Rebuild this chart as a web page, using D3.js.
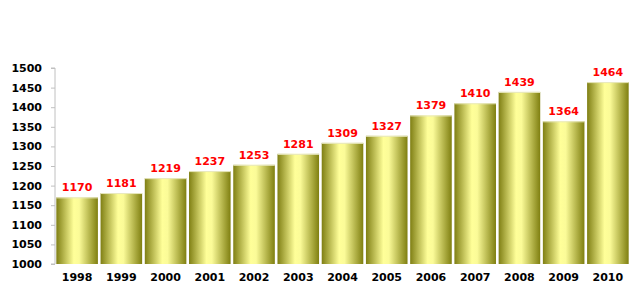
<!DOCTYPE html>
<html>
<head>
<meta charset="utf-8">
<script src="https://cdn.jsdelivr.net/npm/d3@7"></script>
<style>
  body { margin: 0; background: #fff; }
  text { font-family: Verdana, "DejaVu Sans", sans-serif; font-weight: bold; font-size: 11px; }
</style>
</head>
<body>
<script>
// chart data
var years = ['1998','1999','2000','2001','2002','2003','2004','2005','2006','2007','2008','2009','2010'];
var values = [1170, 1181, 1219, 1237, 1253, 1281, 1309, 1327, 1379, 1410, 1439, 1364, 1464];
var yTicks = [1000, 1050, 1100, 1150, 1200, 1250, 1300, 1350, 1400, 1450, 1500];

var width = 639, height = 299;
var plotLeft = 55, plotRight = 630, plotTop = 68, plotBottom = 264;

var data = years.map((y, i) => ({year: y, value: values[i]}));

var svg = d3.select('body').append('svg')
  .attr('width', width)
  .attr('height', height);

var grad = svg.append('defs').append('linearGradient')
  .attr('id', 'barGrad')
  .attr('x1', '0%').attr('x2', '100%').attr('y1', '0%').attr('y2', '0%');
grad.append('stop').attr('offset', '0%').attr('stop-color', '#7f7f14');
grad.append('stop').attr('offset', '42%').attr('stop-color', '#ffff99');
grad.append('stop').attr('offset', '55%').attr('stop-color', '#fbfb98');
grad.append('stop').attr('offset', '100%').attr('stop-color', '#7f7f10');

var x = d3.scaleBand()
  .domain(years)
  .range([plotLeft, plotRight])
  .paddingInner(0.06)
  .paddingOuter(0.03);

var y = d3.scaleLinear()
  .domain([1000, 1500])
  .range([plotBottom, plotTop]);

// y axis
var yAxis = svg.append('g')
  .attr('transform', `translate(${plotLeft},0)`)
  .call(d3.axisLeft(y).tickValues(yTicks).tickSize(4).tickPadding(9).tickFormat(d3.format('d')));
yAxis.selectAll('path, line').attr('stroke', '#c0c0c0');
yAxis.selectAll('text').attr('fill', '#000').style('font-size', '11px');
yAxis.select('.domain').attr('d', `M-4,${plotBottom}H0V${plotTop}H-4`);

// x labels
svg.append('g')
  .selectAll('text')
  .data(data).enter()
  .append('text')
  .attr('x', d => x(d.year) + x.bandwidth() / 2)
  .attr('y', 281)
  .attr('text-anchor', 'middle')
  .attr('fill', '#000')
  .text(d => d.year);

// bars
svg.append('g')
  .selectAll('rect')
  .data(data).enter()
  .append('rect')
  .attr('x', d => x(d.year))
  .attr('y', d => y(d.value))
  .attr('width', x.bandwidth())
  .attr('height', d => y(1000) - y(d.value))
  .attr('fill', 'url(#barGrad)');

// bar top highlight
svg.append('g')
  .selectAll('line')
  .data(data).enter()
  .append('line')
  .attr('x1', d => x(d.year))
  .attr('x2', d => x(d.year) + x.bandwidth())
  .attr('y1', d => y(d.value) + 0.5)
  .attr('y2', d => y(d.value) + 0.5)
  .attr('stroke', '#e8e8c0')
  .attr('stroke-width', 1);

// value labels
svg.append('g')
  .selectAll('text')
  .data(data).enter()
  .append('text')
  .attr('x', d => x(d.year) + x.bandwidth() / 2)
  .attr('y', d => y(d.value) - 6)
  .attr('text-anchor', 'middle')
  .attr('fill', '#ff0000')
  .text(d => d.value);
</script>
</body>
</html>
